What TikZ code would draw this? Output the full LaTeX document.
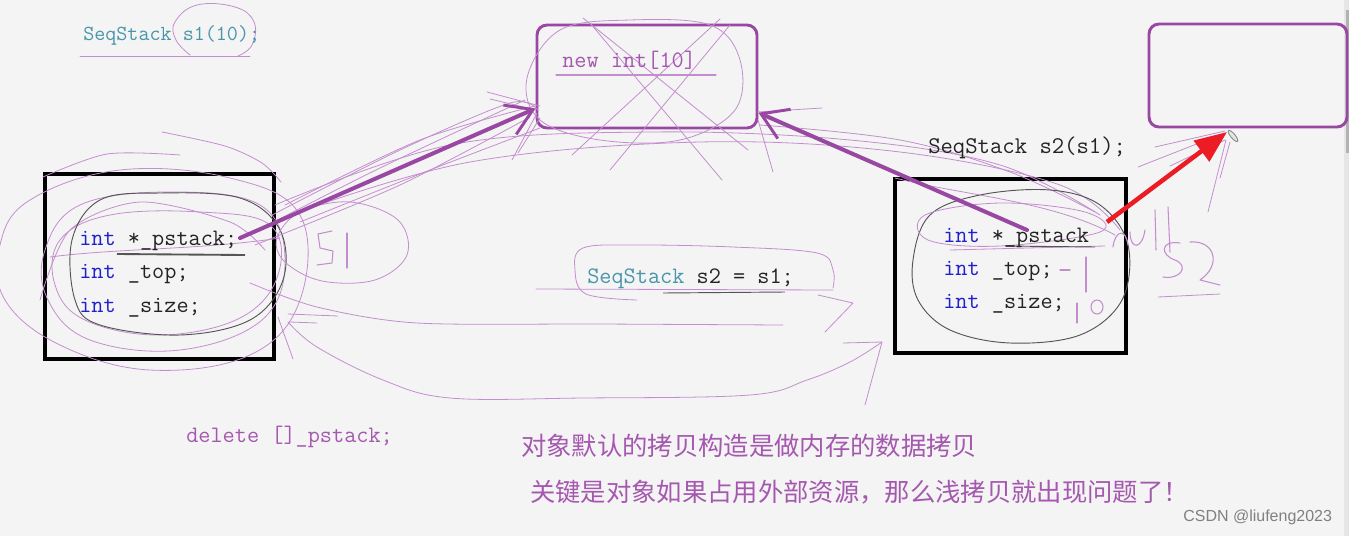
\documentclass[tikz,border=0pt]{standalone}
\usepackage{fontspec}
\newfontfamily\codefont{Latin Modern Mono}
\newfontfamily\cjk{Noto Sans CJK SC}
\newfontfamily\wmfont{Liberation Sans}
\usetikzlibrary{arrows.meta}
\definecolor{bgc}{RGB}{244,244,244}
\definecolor{pen}{RGB}{152,72,162}
\definecolor{scrib}{RGB}{196,142,206}
\definecolor{teal}{RGB}{72,150,170}
\definecolor{intblue}{RGB}{32,32,205}
\definecolor{codegray}{RGB}{35,35,35}
\definecolor{ptext}{RGB}{165,88,175}
\definecolor{redarr}{RGB}{236,28,36}
\definecolor{darkline}{RGB}{85,85,85}
\newcommand\kwint[1]{\textcolor{intblue}{#1}}
\tikzset{
  code/.style={anchor=base west, inner sep=0pt, text=codegray,
    font=\codefont\fontsize{17.7}{22}\selectfont},
  objbox/.style={draw=black, line width=2.3pt, rectangle, inner sep=0pt},
  membox/.style={draw=pen, line width=2.2pt, rounded corners=7.5pt, rectangle, inner sep=0pt},
  scribble/.style={draw=scrib, line width=0.6pt, line cap=round, line join=round},
  gloop/.style={draw=darkline, line width=0.7pt},
  penarrow/.style={draw=pen, line width=3pt, line cap=round,
    -{Straight Barb[length=19pt, width=24pt, line width=2.2pt]}},
  redarrow/.style={draw=redarr, line width=3.4pt,
    -{Triangle[length=24pt, width=19pt]}}
}
\begin{document}
\begin{tikzpicture}[x=0.75pt, y=-0.75pt]
\useasboundingbox (0,0) rectangle (1349,536);
\fill[bgc] (0,0) rectangle (1349,536);
% scrollbar
\fill[black!10] (1344,0) rectangle (1349,536);
\fill[black!30] (1346,10) rectangle (1349,153);

% ---------------- boxes ----------------
\node[objbox, minimum width=171.75pt, minimum height=138.75pt] (s1box) at (159.5,266.5) {};
\node[objbox, minimum width=173.25pt, minimum height=130.5pt] (s2box) at (1010.5,266) {};
\node[membox, minimum width=165pt, minimum height=77.25pt] (memA) at (647,76.5) {};
\node[membox, minimum width=148.5pt, minimum height=77.25pt] (memB) at (1248,75.5) {};

% ---------------- scribbles (behind text) ----------------
% around s1(10)
\draw[scribble] (80,56) -- (250,56);
\draw[scribble] plot[smooth, tension=0.7] coordinates {(190,55) (176,40) (175,22) (197,5) (235,7) (254,22) (252,45) (238,56)};
% above left box
\draw[scribble] plot[smooth] coordinates {(162,132) (225,146) (262,163) (281,182)};
\draw[scribble] plot[smooth] coordinates {(43,177) (107,154) (180,155)};
% ellipses around left code
\draw[scribble] plot[smooth cycle, tension=0.65] coordinates {(0,245) (30,200) (120,170) (230,178) (300,215) (300,300) (250,355) (150,370) (60,345) (5,300)};
\draw[scribble] plot[smooth cycle, tension=0.65] coordinates {(45,250) (80,205) (170,192) (260,205) (285,260) (262,320) (180,350) (90,340) (48,300)};
\draw[scribble] plot[smooth cycle, tension=0.65] coordinates {(60,240) (110,215) (200,212) (270,225) (278,275) (240,318) (160,335) (85,320) (55,285)};
\draw[scribble] plot[smooth] coordinates {(40,300) (70,230) (140,202) (230,222) (265,250)};
\draw[scribble] (50,257) .. controls (120,248) and (200,250) .. (280,238);
\draw[gloop] plot[smooth cycle, tension=0.6] coordinates {(75,300) (72,240) (100,200) (160,193) (240,198) (280,230) (283,280) (250,320) (180,335) (100,325)};
% s1 label and loop
\draw[scribble, line width=0.8pt] (332,231) -- (318,234) -- (320,248) -- (333,251) -- (332,263) -- (317,265);
\draw[scribble, line width=0.8pt] (347,233) -- (347,268);
\draw[scribble] plot[smooth cycle, tension=0.6] coordinates {(277,238) (300,212) (350,202) (398,220) (407,255) (375,280) (322,281) (285,262)};
% threads from left box to memA
\draw[scribble] plot[smooth] coordinates {(262,228) (380,168) (525,100)};
\draw[scribble] plot[smooth] coordinates {(272,215) (400,150) (510,103) (538,110)};
\draw[scribble] plot[smooth] coordinates {(285,205) (420,140) (535,106)};
\draw[scribble] plot[smooth] coordinates {(255,245) (400,185) (530,117)};
\draw[scribble] plot[smooth] coordinates {(300,222) (430,170) (540,128)};
\draw[scribble] (487,92) -- (540,106);
\draw[scribble] (490,99) -- (536,110);
\draw[scribble] (512,160) -- (537,113);
\draw[scribble] (518,153) -- (540,118);
% X and loop on memA
\draw[scribble] (583,18) -- (748,150);
\draw[scribble] (590,23) -- (722,180);
\draw[scribble] (720,19) -- (572,155);
\draw[scribble] (730,25) -- (610,170);
\draw[scribble] plot[smooth cycle, tension=0.6] coordinates {(527,78) (560,30) (630,20) (710,25) (740,60) (735,110) (680,140) (600,140) (540,120)};
\draw[scribble] (757,112) -- (822,108);
\draw[scribble] (758,120) -- (773,172);
% long arcs from left box to right box
\draw[scribble] plot[smooth, tension=0.6] coordinates {(275,205) (450,145) (650,132) (850,140) (1000,165) (1100,215)};
\draw[scribble] plot[smooth, tension=0.6] coordinates {(290,215) (470,162) (700,142) (900,152) (1060,185) (1120,230)};
\draw[scribble] plot[smooth, tension=0.6] coordinates {(760,125) (900,140) (1010,172) (1095,212)};
% SeqStack s2 = s1 loop
\draw[scribble] plot[smooth, tension=0.6] coordinates {(637,300) (586,294) (575,270) (583,248) (637,245) (733,247) (817,253) (833,270) (833,288)};
\draw[scribble] (536,289) -- (833,290);
\draw[darkline, line width=0.7pt] (663,293) -- (785,292);
\draw[scribble] plot[smooth] coordinates {(250,283) (317,307) (417,323) (600,324) (783,325)};
\draw[scribble] (818,295) -- (853,303) -- (825,332);
% big loop under
\draw[scribble] plot[smooth, tension=0.6] coordinates {(288,322) (317,347) (383,380) (450,398) (583,398) (750,395) (807,380) (850,362) (882,342)};
\draw[scribble] (843,343) -- (882,342) -- (865,405);
\draw[scribble] (288,314) -- (338,316);
\draw[scribble] (290,322) -- (317,323);
\draw[scribble] (278,317) -- (293,359);
% right box annotations
\draw[gloop] plot[smooth cycle, tension=0.6] coordinates {(913,260) (930,215) (980,195) (1050,190) (1100,205) (1128,245) (1122,300) (1080,335) (1010,343) (950,330) (918,300)};
\draw[scribble] plot[smooth cycle, tension=0.6] coordinates {(925,215) (1000,203) (1085,212) (1100,232) (1000,246) (928,240)};
\draw[scribble] (950,250) -- (1105,246);
\draw[scribble] (895,178) .. controls (960,195) and (1050,200) .. (1115,235);
\draw[darkline, line width=0.7pt] (1005,246) -- (1095,247);
\draw[scribble, line width=0.8pt] (1060,270) -- (1070,270);
\draw[scribble, line width=0.8pt] (1086,257) -- (1086,292);
\draw[scribble, line width=0.8pt] (1077,303) -- (1077,323);
\draw[scribble, line width=0.8pt] (1097,307) ellipse [x radius=6, y radius=7];
% null, s2
\draw[scribble, line width=0.8pt] (1113,247) .. controls (1115,230) and (1126,228) .. (1128,245);
\draw[scribble, line width=0.8pt] (1130,232) .. controls (1130,250) and (1142,250) .. (1145,230);
\draw[scribble, line width=0.8pt] (1155,210) -- (1156,250);
\draw[scribble, line width=0.8pt] (1168,207) -- (1170,252);
\draw[scribble, line width=0.8pt] (1180,243) .. controls (1160,240) and (1160,255) .. (1175,260) .. controls (1190,266) and (1180,280) .. (1163,277);
\draw[scribble, line width=0.8pt] (1190,242) .. controls (1215,240) and (1222,265) .. (1200,280) -- (1220,285);
\draw[scribble] (1158,297) -- (1220,294);
% around red arrow
\draw[scribble] (1155,147) -- (1225,131);
\draw[scribble] (1138,167) -- (1222,134);
\draw[scribble] (1226,140) -- (1208,212);
\draw[scribble] (1230,142) -- (1220,178);
\draw[scribble] (1170,166) -- (1225,140);
% cursor icon
\draw[black!45, line width=0.7pt, fill=black!10, rotate around={-50:(1233,136)}] (1233,136) ellipse [x radius=7, y radius=2.2];

% ---------------- texts ----------------
\node[code, text=teal, font=\codefont\fontsize{16.1}{20}\selectfont] (decl1) at (83,40) {SeqStack s1(10);};
\node[code, text=ptext] (newint) at (562,67) {new int[10]};
\draw[scribble, line width=0.9pt] (556,75) -- (716,75);
\node[code, font=\codefont\fontsize{18}{22}\selectfont] (decl2) at (928,153) {SeqStack s2(s1);};

\node[code] (a1) at (79,245) {\kwint{int} *\_pstack;};
\node[code] (a2) at (79,278) {\kwint{int} \_top;};
\node[code] (a3) at (79,312) {\kwint{int} \_size;};
\draw[darkline, line width=1.4pt] (117,254) -- (245,255);

\node[code] (b1) at (943,242) {\kwint{int} *\_pstack};
\node[code] (b2) at (943,275) {\kwint{int} \_top;};
\node[code] (b3) at (943,308) {\kwint{int} \_size;};

\node[code] (decl3) at (587,283) {\textcolor{teal}{SeqStack} s2 = s1;};
\node[code, text=ptext] (del) at (186,442) {delete []\_pstack;};

\node[anchor=west, inner sep=0pt, text=ptext, font=\cjk\fontsize{19}{22}\selectfont] (cn1) at (521,446) {对象默认的拷贝构造是做内存的数据拷贝};
\node[anchor=west, inner sep=0pt, text=ptext, font=\cjk\fontsize{19}{22}\selectfont] (cn2) at (530,492) {关键是对象如果占用外部资源，那么浅拷贝就出现问题了！};
\node[anchor=west, inner sep=0pt, text=black!50, font=\wmfont\fontsize{12}{14}\selectfont] (wm) at (1183,517) {CSDN @liufeng2023};

% ---------------- arrows ----------------
\coordinate (p1) at (240,238);
\coordinate (p2) at (1027,230);
\coordinate (nullp) at (1107,222);
\coordinate (redtip) at (1227,132);
\draw[penarrow] (p1) -- (memA.196);
\draw[penarrow] (p2) -- (memA.342);
\draw[redarrow] (nullp) -- (redtip);
\end{tikzpicture}
\end{document}
